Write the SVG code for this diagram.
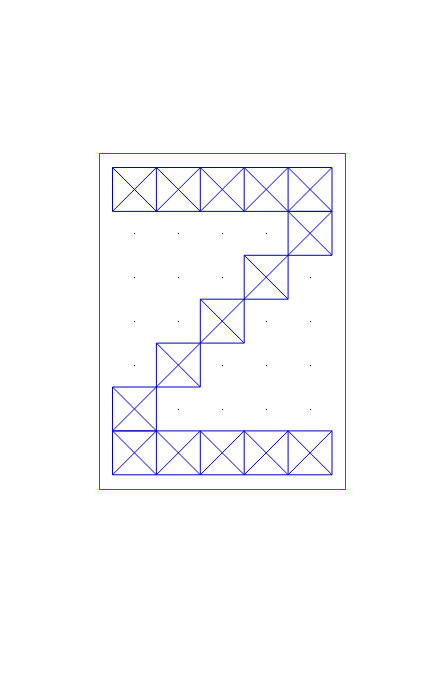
<svg xmlns="http://www.w3.org/2000/svg" width="445" height="676" viewBox="0 0 445 676">
<style>
.frame{fill:none;stroke:#cc00cc;stroke-width:1}
.cell{fill:none;stroke:#0000cc;stroke-width:1}
.dot{fill:#000000}
</style>
<rect id="frame" class="frame" x="99.5" y="153.5" width="246" height="336"/>
<g id="cells" class="cell">
<path d="M112.5,167.5h219.5v43.9h-219.5zM156.4,167.5v43.9M200.3,167.5v43.9M244.2,167.5v43.9M288.1,167.5v43.9"/>
<path d="M112.5,430.9h219.5v43.9h-219.5zM156.4,430.9v43.9M200.3,430.9v43.9M244.2,430.9v43.9M288.1,430.9v43.9"/>
<path d="M288.1,211.4h43.9v43.9h-43.9zM244.2,255.3h43.9v43.9h-43.9zM200.3,299.2h43.9v43.9h-43.9zM156.4,343.1h43.9v43.9h-43.9zM112.5,387h43.9v43.9h-43.9z"/>
<path d="M112.5,167.5l43.9,43.9M156.4,167.5l-43.9,43.9M156.4,167.5l43.9,43.9M200.3,167.5l-43.9,43.9M200.3,167.5l43.9,43.9M244.2,167.5l-43.9,43.9M244.2,167.5l43.9,43.9M288.1,167.5l-43.9,43.9M288.1,167.5l43.9,43.9M332,167.5l-43.9,43.9"/>
<path d="M288.1,211.4l43.9,43.9M332,211.4l-43.9,43.9M244.2,255.3l43.9,43.9M288.1,255.3l-43.9,43.9M200.3,299.2l43.9,43.9M244.2,299.2l-43.9,43.9M156.4,343.1l43.9,43.9M200.3,343.1l-43.9,43.9M112.5,387l43.9,43.9M156.4,387l-43.9,43.9"/>
<path d="M112.5,430.9l43.9,43.9M156.4,430.9l-43.9,43.9M156.4,430.9l43.9,43.9M200.3,430.9l-43.9,43.9M200.3,430.9l43.9,43.9M244.2,430.9l-43.9,43.9M244.2,430.9l43.9,43.9M288.1,430.9l-43.9,43.9M288.1,430.9l43.9,43.9M332,430.9l-43.9,43.9"/>
</g>
<g id="dots" class="dot">
<rect x="134" y="233" width="1" height="1"/><rect x="178" y="233" width="1" height="1"/><rect x="222" y="233" width="1" height="1"/><rect x="266" y="233" width="1" height="1"/>
<rect x="134" y="277" width="1" height="1"/><rect x="178" y="277" width="1" height="1"/><rect x="222" y="277" width="1" height="1"/><rect x="310" y="277" width="1" height="1"/>
<rect x="134" y="321" width="1" height="1"/><rect x="178" y="321" width="1" height="1"/><rect x="266" y="321" width="1" height="1"/><rect x="310" y="321" width="1" height="1"/>
<rect x="134" y="365" width="1" height="1"/><rect x="222" y="365" width="1" height="1"/><rect x="266" y="365" width="1" height="1"/><rect x="310" y="365" width="1" height="1"/>
<rect x="178" y="409" width="1" height="1"/><rect x="222" y="409" width="1" height="1"/><rect x="266" y="409" width="1" height="1"/><rect x="310" y="409" width="1" height="1"/>
</g>
</svg>
